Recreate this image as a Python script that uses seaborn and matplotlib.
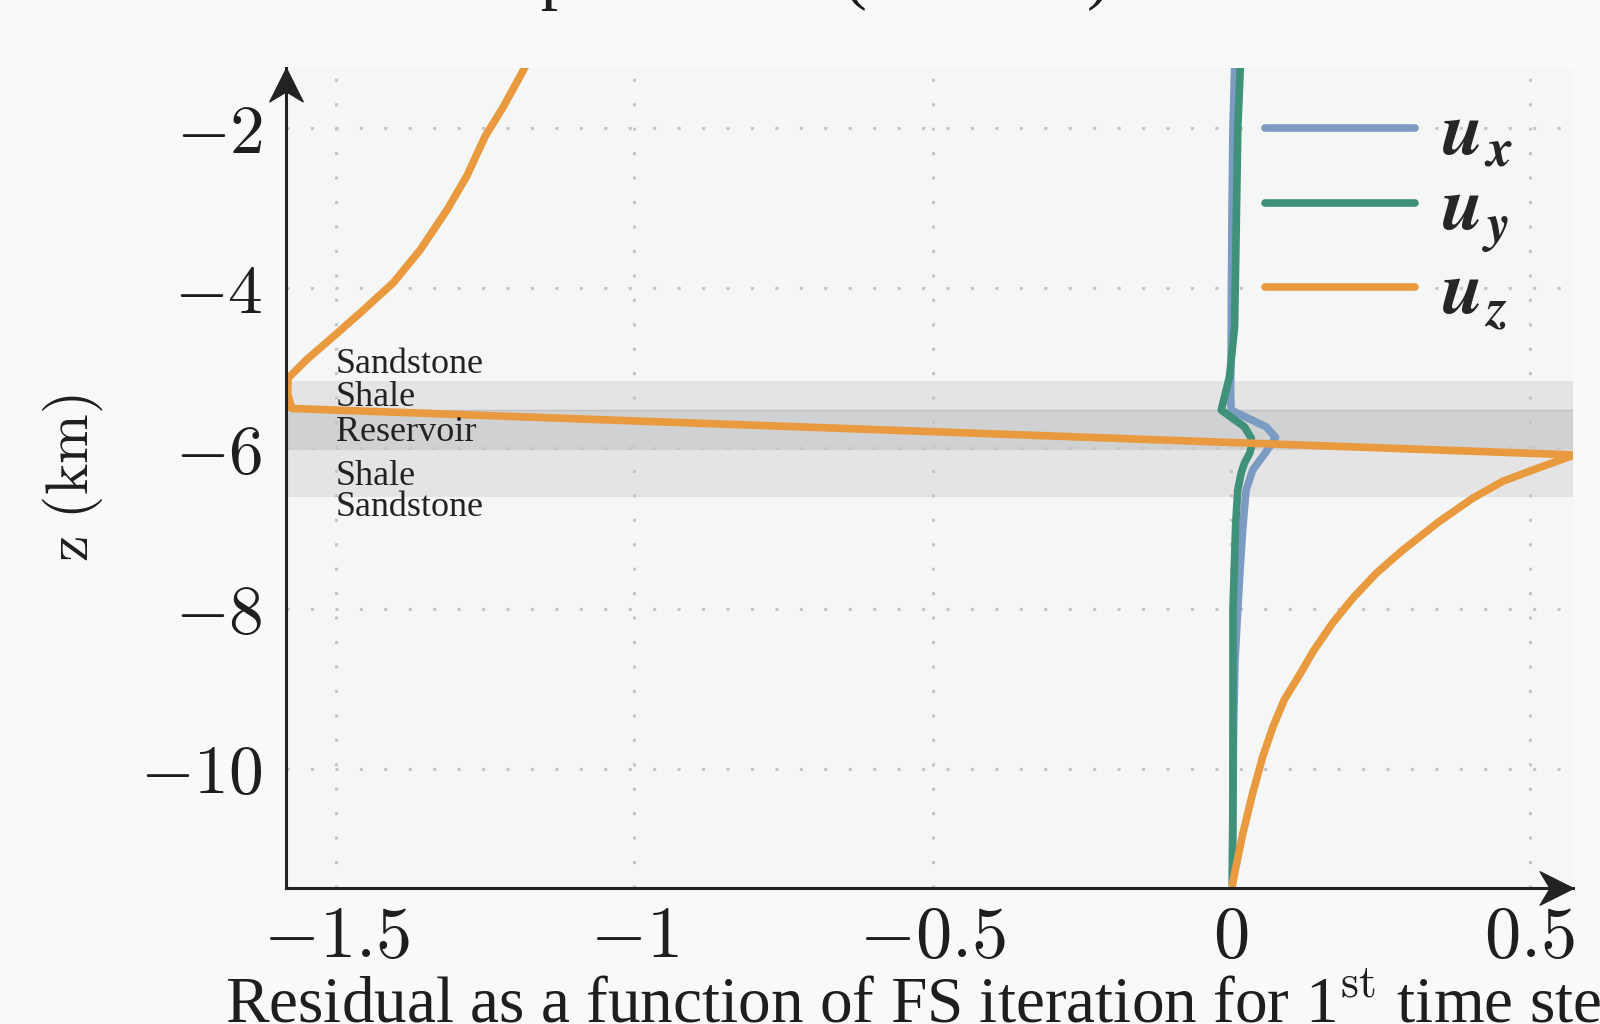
import numpy as np
import pandas as pd
import matplotlib
matplotlib.use("Agg")
import matplotlib.pyplot as plt
import seaborn as sns
from matplotlib.path import Path
from matplotlib.ticker import FuncFormatter

# Residual profiles
z_ux = [-1.22, -2.0, -3.0, -4.0, -4.8, -5.3, -5.52, -5.73, -5.86, -6.04, -6.27, -6.52,
        -6.98, -7.5, -8.02, -8.64, -9.5, -10.5, -11.45]
ux = [0.006, 0.003, 0.0015, 0.0005, 0.0, -0.001, 0.0, 0.0587, 0.0744, 0.0587, 0.036, 0.025,
      0.0196, 0.015, 0.011, 0.0065, 0.004, 0.003, 0.002]

z_uy = [-1.22, -1.98, -3.23, -4.48, -5.10, -5.52, -5.73, -5.87, -5.98, -6.06, -6.18, -6.30,
        -6.52, -6.98, -8.02, -9.0, -10.3, -11.45]
uy = [0.0155, 0.0112, 0.0085, 0.0057, -0.0027, -0.0166, 0.0224, 0.0336, 0.034, 0.031, 0.0224,
      0.017, 0.011, 0.0074, 0.003, 0.003, 0.003, 0.002]

z_uz = [-1.22, -1.73, -2.10, -2.60, -3.02, -3.52, -3.93, -4.27, -4.56, -4.89, -5.12, -5.31,
        -5.50, -6.08, -6.27, -6.41, -6.62, -6.91, -7.27, -7.56, -7.87, -8.18, -8.54, -8.83,
        -9.14, -9.48, -9.85, -10.31, -10.81, -11.45]
uz = [-1.182, -1.2195, -1.250, -1.281, -1.314, -1.359, -1.404, -1.454, -1.498, -1.549, -1.580,
      -1.581, -1.574, 0.575, 0.505, 0.455, 0.405, 0.349, 0.2875, 0.243, 0.204, 0.170, 0.137,
      0.1145, 0.089, 0.070, 0.053, 0.036, 0.0196, 0.002]

components = [r"$\boldsymbol{u}_{\boldsymbol{x}}$", r"$\boldsymbol{u}_{\boldsymbol{y}}$",
              r"$\boldsymbol{u}_{\boldsymbol{z}}$"]
colors = ["#7b9bc2", "#40917a", "#e99a3e"]

# Geological layers
band_top = [-5.16, -5.52, -6.02]
band_bottom = [-5.52, -6.02, -6.61]
band_colors = ["#e4e4e4", "#d0d1d3", "#e4e4e4"]
layer_names = ["Sandstone", "Shale", "Reservoir", "Shale", "Sandstone"]
layer_z = [-4.95, -5.36, -5.80, -6.35, -6.74]

xticks = [-1.5, -1, -0.5, 0, 0.5]
yticks = [-10, -8, -6, -4, -2]

df = pd.concat([
    pd.DataFrame({"residual": ux, "z": z_ux, "component": components[0]}),
    pd.DataFrame({"residual": uy, "z": z_uy, "component": components[1]}),
    pd.DataFrame({"residual": uz, "z": z_uz, "component": components[2]}),
])

sns.set_theme(style="white")
plt.rcParams["mathtext.fontset"] = "cm"
plt.rcParams["font.family"] = ["Liberation Serif", "DejaVu Serif"]

fig = plt.figure(figsize=(16, 10.24), dpi=100, facecolor="#f9f9f9")
ax = fig.add_axes([0.1786, 0.133, 0.8048, 0.8002])
ax.set_facecolor("#f5f7f7")

for top, bot, c in zip(band_top, band_bottom, band_colors):
    ax.axhspan(bot, top, color=c, lw=0, zorder=0.1)
ax.axhline(band_top[1], color="#bfc0c3", lw=1, zorder=0.2)

n_before = len(ax.lines)
sns.lineplot(data=df, x="residual", y="z", hue="component", palette=colors,
             orient="y", estimator=None, sort=True, ax=ax)
for line in ax.lines[n_before:]:
    line.set_linewidth(5.5)
    line.set_solid_joinstyle("round")

for name, z in zip(layer_names, layer_z):
    ax.text(-1.5, z, name, ha="left", va="center", fontsize=26, color="#222222")

ax.set_xlim(-1.584, 0.5735)
ax.set_ylim(-11.49, -1.25)
ax.set_xticks(xticks)
ax.set_yticks(yticks)
fmt = FuncFormatter(lambda v, p: r"$%g$" % v)
ax.xaxis.set_major_formatter(fmt)
ax.yaxis.set_major_formatter(fmt)
ax.tick_params(axis="both", which="major", direction="inout", length=27, width=0.9,
               color="#9a9a9a", labelcolor="#1e1e1e")
ax.tick_params(axis="x", pad=0, labelsize=52)
ax.tick_params(axis="y", pad=3, labelsize=50)
ax.set_axisbelow(True)
ax.grid(True, color="#c6c6c6", linestyle=(0, (1, 7)), linewidth=2.2)

for s in ["top", "right"]:
    ax.spines[s].set_visible(False)
for s in ["left", "bottom"]:
    ax.spines[s].set_color("#222222")
    ax.spines[s].set_linewidth(2.2)

# arrow heads on the axes
up = Path([(0, 0), (-0.5, -1), (0, -0.7), (0.5, -1), (0, 0)],
          [Path.MOVETO, Path.LINETO, Path.LINETO, Path.LINETO, Path.CLOSEPOLY])
right = Path([(0, 0), (-1, 0.5), (-0.7, 0), (-1, -0.5), (0, 0)],
             [Path.MOVETO, Path.LINETO, Path.LINETO, Path.LINETO, Path.CLOSEPOLY])
ax.plot(0, 1, marker=up, markersize=48, color="#222222", transform=ax.transAxes,
        clip_on=False, zorder=5)
ax.plot(1, 0, marker=right, markersize=48, color="#222222", transform=ax.transAxes,
        clip_on=False, zorder=5)

ax.set_ylabel(r"$\mathrm{z\ (km)}$", fontsize=43, color="#1e1e1e")
ax.yaxis.set_label_coords(-0.14, 0.5)
ax.set_xlabel(r"Residual as a function of FS iteration for 1$^{\mathrm{st}}$ time step",
              fontsize=47, color="#1e1e1e", labelpad=-3)

handles, labels = ax.get_legend_handles_labels()
for h in handles:
    h.set_linewidth(5.5)
ax.legend(handles, labels, loc="upper left", bbox_to_anchor=(1265 / 1600, 1 - 102 / 1024),
          bbox_transform=fig.transFigure, frameon=False, fontsize=54, handlelength=2.0,
          handletextpad=0.35, labelspacing=0.08, borderpad=0, borderaxespad=0)

fig.text(0.2775, 1.004, "Displacement (residual)", fontsize=50, va="baseline",
         ha="left", color="#1e1e1e")

fig.savefig("out.png", dpi=100, facecolor=fig.get_facecolor())
